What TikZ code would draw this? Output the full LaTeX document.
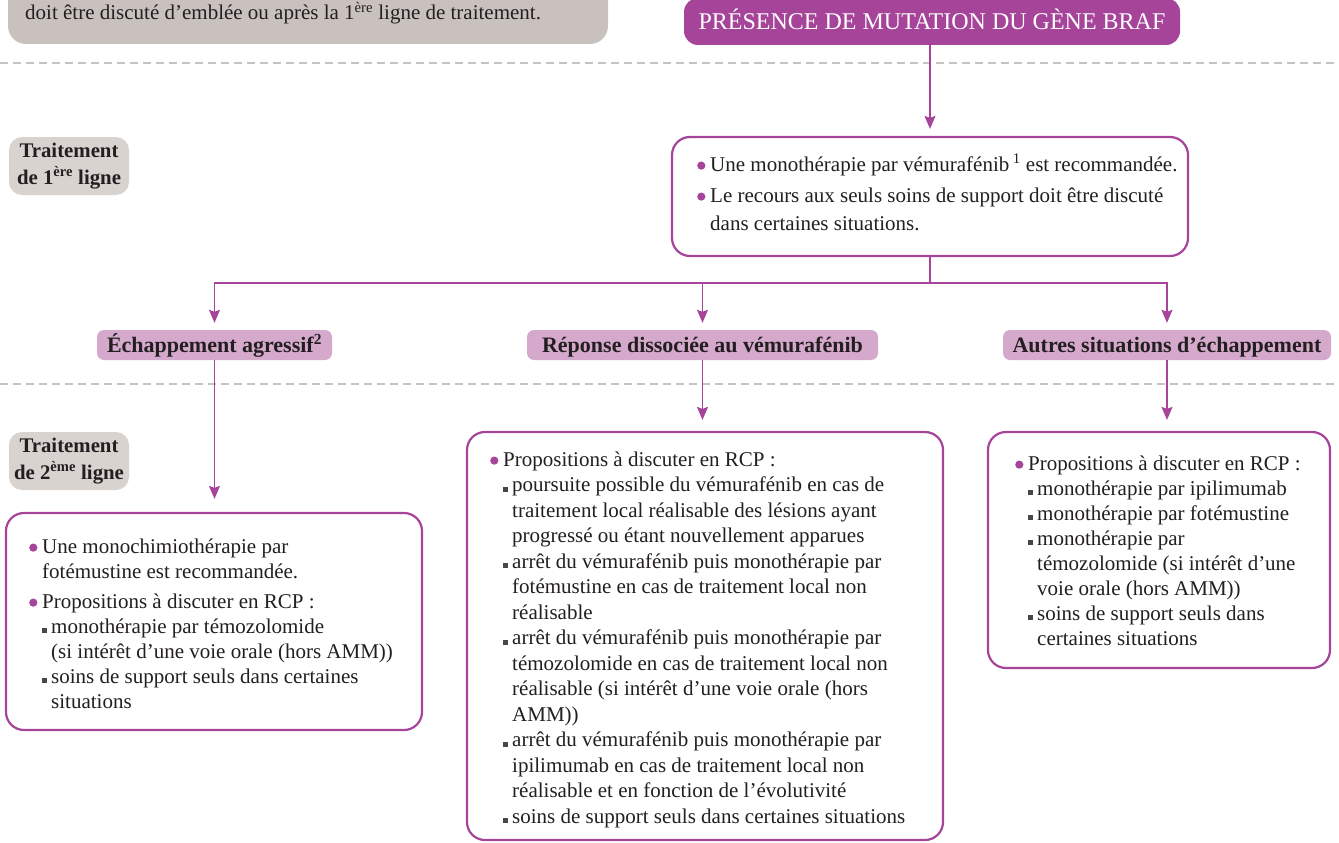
\documentclass[tikz,border=0pt]{standalone}
\usepackage{fontspec}
\setmainfont{Liberation Serif}
\usetikzlibrary{arrows.meta}
\definecolor{mauve}{HTML}{A6449A}
\definecolor{lmauve}{HTML}{D5A9CC}
\definecolor{gbox}{HTML}{C9C1BD}
\definecolor{gtag}{HTML}{D9D3D0}
\definecolor{dashc}{HTML}{C9C3C0}
\definecolor{ink}{HTML}{231F20}
\definecolor{sqc}{HTML}{4A4546}
\newcommand\pbul{\makebox[13pt][l]{\tikz[baseline=0pt]\fill[mauve] (4.1pt,5.4pt) circle (4.1pt);}}
\newcommand\sbul{\makebox[9pt][l]{\textcolor{sqc}{\rule{5pt}{5pt}}}}
\newcommand\ci{\hspace*{13pt}}
\newcommand\si{\hspace*{22pt}}
\tikzset{
  rbox/.style={draw=mauve, line width=2.2pt, rounded corners=18pt, fill=white, inner sep=0pt},
  lbl/.style={fill=lmauve, rounded corners=7pt, inner sep=0pt, text=ink,
    font=\fontsize{22}{24}\selectfont\bfseries, text height=15pt, text depth=1pt},
  tag/.style={fill=gtag, rounded corners=13pt, inner sep=0pt},
  tagtxt/.style={anchor=base, inner sep=0pt, text=ink, font=\fontsize{20.8}{27}\selectfont\bfseries},
  body/.style={anchor=base west, inner sep=0pt, text=ink},
  conn/.style={draw=mauve, line width=1.4pt},
  arr/.style={conn, -{Stealth[length=13pt,width=11pt,inset=2pt]}},
  dline/.style={draw=dashc, line width=2pt, dash pattern=on 8pt off 5pt},
}
\begin{document}
\begin{tikzpicture}[x=1pt,y=-1pt]
\useasboundingbox (0,0) rectangle (1339,843);
% dashed separators
\draw[dline] (0,63) -- (1339,63);
\draw[dline] (0,384) -- (1339,384);
% top-left note
\node[fill=gbox, rounded corners=18pt, minimum width=600pt, minimum height=80pt] (note) at (308,4) {};
\node[body, font=\fontsize{21}{25}\selectfont] (notetxt) at (25,20) {doit être discuté d’emblée ou après la 1\textsuperscript{ère} ligne de traitement.};
% top box
\node[fill=mauve, rounded corners=14pt, minimum width=496pt, minimum height=47pt, inner sep=0pt,
  text=white, font=\fontsize{24}{26}\selectfont, text height=16pt, text depth=0pt] (top) at (932,21.5) {PRÉSENCE DE MUTATION DU GÈNE BRAF};
% row tags
\node[tag, minimum width=120pt, minimum height=58pt] (tag1) at (69,166) {};
\node[tagtxt] (tag1a) at (69,157) {Traitement};
\node[tagtxt] (tag1b) at (69,184) {de 1\textsuperscript{ère} ligne};
\node[tag, minimum width=120pt, minimum height=58pt] (tag2) at (69,461) {};
\node[tagtxt] (tag2a) at (69,452) {Traitement};
\node[tagtxt] (tag2b) at (69,479) {de 2\textsuperscript{ème} ligne};
% first line box
\node[rbox, minimum width=516pt, minimum height=119pt] (b1) at (930,196.5) {};
\node[body, font=\fontsize{21}{28}\selectfont] (b1t) at (697,171) {\begin{tabular}[t]{@{}l@{}}
\pbul Une monothérapie par vémurafénib\,\textsuperscript{1} est recommandée.\\[3pt]
\pbul Le recours aux seuls soins de support doit être discuté\\
\ci dans certaines situations.
\end{tabular}};
% labels
\node[lbl, minimum width=235pt, minimum height=30pt] (ech) at (214.5,345) {Échappement agressif\textsuperscript{2}};
\node[lbl, minimum width=351pt, minimum height=30pt] (rep) at (702.5,345) {Réponse dissociée au vémurafénib};
\node[lbl, minimum width=328pt, minimum height=30pt] (aut) at (1167,345) {Autres situations d’échappement};
% second line boxes
\node[rbox, minimum width=416pt, minimum height=217pt] (bA) at (214,621.5) {};
\node[body, font=\fontsize{21}{25}\selectfont] (bAt) at (29,553) {\begin{tabular}[t]{@{}l@{}}
\pbul Une monochimiothérapie par\\
\ci fotémustine est recommandée.\\[5pt]
\pbul Propositions à discuter en RCP :\\
\ci\sbul monothérapie par témozolomide\\
\si (si intérêt d’une voie orale (hors AMM))\\
\ci\sbul soins de support seuls dans certaines\\
\si situations
\end{tabular}};
\node[rbox, minimum width=476pt, minimum height=408pt] (bB) at (705,636) {};
\node[body, font=\fontsize{21}{25.5}\selectfont] (bBt) at (490,466) {\begin{tabular}[t]{@{}l@{}}
\pbul Propositions à discuter en RCP :\\
\ci\sbul poursuite possible du vémurafénib en cas de\\
\si traitement local réalisable des lésions ayant\\
\si progressé ou étant nouvellement apparues\\
\ci\sbul arrêt du vémurafénib puis monothérapie par\\
\si fotémustine en cas de traitement local non\\
\si réalisable\\
\ci\sbul arrêt du vémurafénib puis monothérapie par\\
\si témozolomide en cas de traitement local non\\
\si réalisable (si intérêt d’une voie orale (hors\\
\si AMM))\\
\ci\sbul arrêt du vémurafénib puis monothérapie par\\
\si ipilimumab en cas de traitement local non\\
\si réalisable et en fonction de l’évolutivité\\
\ci\sbul soins de support seuls dans certaines situations
\end{tabular}};
\node[rbox, minimum width=342pt, minimum height=236pt] (bC) at (1159,550) {};
\node[body, font=\fontsize{21}{25}\selectfont] (bCt) at (1015,470) {\begin{tabular}[t]{@{}l@{}}
\pbul Propositions à discuter en RCP :\\
\ci\sbul monothérapie par ipilimumab\\
\ci\sbul monothérapie par fotémustine\\
\ci\sbul monothérapie par\\
\si témozolomide (si intérêt d’une\\
\si voie orale (hors AMM))\\
\ci\sbul soins de support seuls dans\\
\si certaines situations
\end{tabular}};
% connectors
\draw[arr, shorten >=7pt] (b1.north |- top.south) -- (b1.north);
\path (b1.south) ++(0,26) coordinate (j);
\draw[conn] (b1.south) -- (j);
\draw[arr, shorten >=7pt] (j) -| (ech.north);
\draw[arr, shorten >=7pt] (j) -| (rep.north);
\draw[arr, shorten >=7pt] (j) -| (aut.north);
\draw[arr, shorten >=13pt] (ech.south) -- (ech.south |- bA.north);
\draw[arr, shorten >=11pt] (rep.south) -- (rep.south |- bB.north);
\draw[arr, shorten >=11pt] (aut.south) -- (aut.south |- bC.north);
\end{tikzpicture}
\end{document}
